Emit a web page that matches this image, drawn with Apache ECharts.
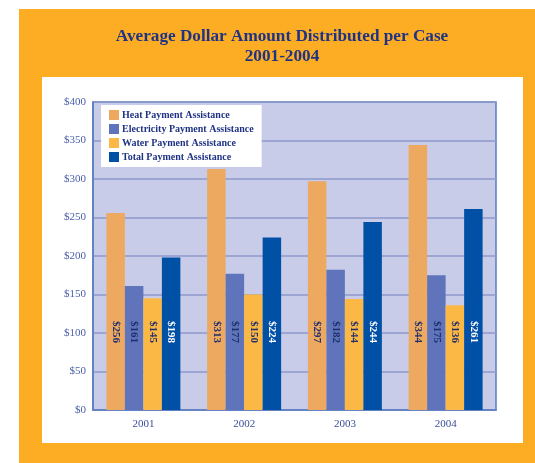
<!DOCTYPE html>
<html>
<head>
<meta charset="utf-8">
<script src="https://cdn.jsdelivr.net/npm/echarts@6/dist/echarts.min.js"></script>
<style>
  html, body { margin: 0; padding: 0; background: #fff; }
  #chart { width: 535px; height: 463px; }
</style>
</head>
<body>
<div id="chart"></div>
<script>
// data
var years = ["2001", "2002", "2003", "2004"];
var seriesNames = ["Heat Payment Assistance", "Electricity Payment Assistance", "Water Payment Assistance", "Total Payment Assistance"];
var heatValues = [256, 313, 297, 344];
var electricityValues = [161, 177, 182, 175];
var waterValues = [145, 150, 144, 136];
var totalValues = [198, 224, 244, 261];
var seriesColors = ["#eda95f", "#5f74bb", "#fbb845", "#0050a5"];
var labelColors = ["#1f2f6b", "#1f2f6b", "#1f2f6b", "#ffffff"];

var serif = "Liberation Serif";
var navy = "#1f3384";

function makeBar(idx, values){
	return {
		name: seriesNames[idx],
		type: "bar",
		data: values,
		barWidth: 18.5,
		barGap: "0%",
		itemStyle: { color: seriesColors[idx] },
		label: {
			show: true,
			position: "insideBottom",
			distance: 78,
			rotate: -90,
			align: "center",
			verticalAlign: "middle",
			fontFamily: serif,
			fontWeight: "bold",
			fontSize: 11,
			color: labelColors[idx],
			formatter: function(p){ return "$" + p.value; }
		}
	};
}

var chart = echarts.init(document.getElementById("chart"));
var option = {
	animation: false,
	backgroundColor: "#ffffff",
	graphic: [
		{ type: "rect", z: -10, shape: { x: 19, y: 9, width: 516, height: 454 }, style: { fill: "#fdad24" } },
		{ type: "rect", z: -9, shape: { x: 42, y: 77, width: 481, height: 366 }, style: { fill: "#ffffff" } }
	],
	title: {
		text: "Average Dollar Amount Distributed per Case\n2001-2004",
		left: 277,
		textAlign: "center",
		top: 22,
		textStyle: {
			fontFamily: serif,
			fontWeight: "bold",
			fontSize: 17.2,
			lineHeight: 20,
			color: navy
		}
	},
	legend: {
		orient: "vertical",
		left: 101,
		top: 105,
		backgroundColor: "#ffffff",
		padding: [5, 8, 5, 8],
		itemWidth: 10,
		itemHeight: 10,
		itemGap: 4,
		icon: "rect",
		data: seriesNames,
		textStyle: { fontFamily: serif, fontWeight: "bold", fontSize: 10, color: navy, padding: [0, 0, 0, -2] }
	},
	grid: {
		left: 93,
		top: 102,
		width: 403,
		height: 308,
		show: true,
		backgroundColor: "#c8cce8",
		borderColor: "#5a7ec0",
		borderWidth: 1.5
	},
	xAxis: {
		type: "category",
		data: years,
		axisTick: { show: false },
		axisLine: { lineStyle: { color: "#5a7ec0", width: 1.5 } },
		axisLabel: { fontFamily: serif, fontSize: 11, color: "#3a4f9a", margin: 9 }
	},
	yAxis: {
		type: "value",
		min: 0,
		max: 400,
		interval: 50,
		axisLine: { show: true, lineStyle: { color: "#5a7ec0", width: 1.5 } },
		axisTick: { show: false },
		splitLine: { lineStyle: { color: "#8f9acb", width: 1.5 } },
		axisLabel: {
			fontFamily: serif,
			fontSize: 11,
			color: "#4a5fa8",
			margin: 7,
			formatter: function(v){ return "$" + v; }
		}
	},
	series: [
		makeBar(0, heatValues),
		makeBar(1, electricityValues),
		makeBar(2, waterValues),
		makeBar(3, totalValues)
	]
};
chart.setOption(option);
</script>
</body>
</html>
